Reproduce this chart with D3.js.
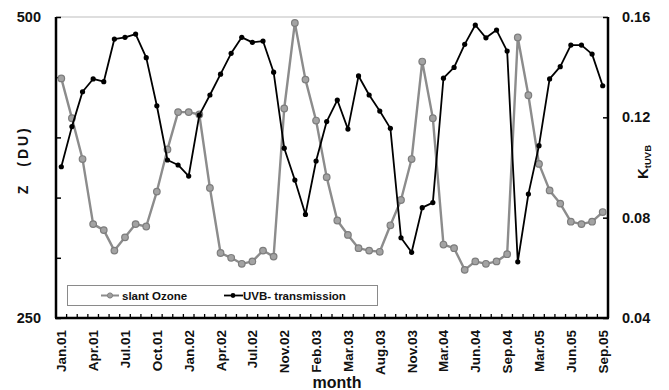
<!DOCTYPE html>
<html>
<head>
<meta charset="utf-8">
<script src="https://cdn.jsdelivr.net/npm/d3@7"></script>
<style>
  html, body { margin: 0; padding: 0; background: #fff; }
  svg { display: block; font-family: "Liberation Sans", Arial, sans-serif; }
</style>
</head>
<body>
<svg id="chart" width="669" height="390"></svg>
<script>
// Month tick labels, one for every third observation
const tickLabels = ["Jan.01", "Apr.01", "Jul.01", "Oct.01", "Jan.02", "Apr.02", "Jul.02",
  "Nov.02", "Feb.03", "Mar.03", "Aug.03", "Nov.03", "Mar.04", "Jun.04", "Sep.04",
  "Mar.05", "Jun.05", "Sep.05"];

// Slant ozone column (DU)
const slantOzone = [449, 416, 382, 328, 323, 306, 317, 328, 326, 355, 390, 421, 421,
  419, 358, 304, 300, 295, 297, 306, 301, 424, 495, 448, 414, 367, 331, 319, 308,
  306, 305, 327, 348, 382, 463, 416, 311, 308, 290, 297, 295, 297, 303, 483, 435,
  378, 356, 345, 330, 328, 330, 338];

// UVB transmission factor K_tUVB
const uvbTransmission = [0.1003, 0.1163, 0.1302, 0.1353, 0.1342, 0.1512, 0.1519,
  0.1532, 0.1438, 0.1246, 0.1030, 0.1010, 0.0966, 0.1209, 0.1289, 0.1372, 0.1455,
  0.1519, 0.1499, 0.1504, 0.1380, 0.1077, 0.0950, 0.0813, 0.1026, 0.1183, 0.1269,
  0.1153, 0.1365, 0.1289, 0.1225, 0.1156, 0.0720, 0.0662, 0.0840, 0.0860, 0.1356,
  0.1399, 0.1491, 0.1568, 0.1517, 0.1548, 0.1464, 0.0624, 0.0894, 0.1087, 0.1353,
  0.1402, 0.1488, 0.1488, 0.1452, 0.1326];

const leftTicks = [250, 300, 350, 400, 450, 500];
const rightTicks = [0.04, 0.08, 0.12, 0.16];

const svg = d3.select("#chart");
const m = { left: 56, right: 608, top: 17, bottom: 318 };

const idx = d3.range(slantOzone.length);
const x = d3.scaleBand().domain(idx).range([m.left, m.right]).padding(0);
const cx = i => x(i) + x.bandwidth() / 2;
const yL = d3.scaleLinear().domain([250, 500]).range([m.bottom, m.top]);
const yR = d3.scaleLinear().domain([0.04, 0.16]).range([m.bottom, m.top]);

// plot-area top border
svg.append("line")
  .attr("x1", m.left).attr("x2", m.right)
  .attr("y1", m.top).attr("y2", m.top)
  .attr("stroke", "#bdbdbd").attr("stroke-width", 1);

// left axis
const leftAxis = d3.axisLeft(yL).tickValues(leftTicks).tickSize(-5).tickFormat("");
const gL = svg.append("g").attr("transform", `translate(${m.left},0)`).call(leftAxis);
gL.select(".domain").attr("stroke", "#000").attr("stroke-width", 2.5)
  .attr("d", `M0,${m.top}V${m.bottom}`);
gL.selectAll(".tick line").attr("stroke", "#000").attr("stroke-width", 1.5);

svg.selectAll(".ltl").data([500, 250]).join("text")
  .attr("x", 41).attr("y", d => yL(d) + 5)
  .attr("text-anchor", "end")
  .attr("font-size", 14.5).attr("font-weight", "bold").attr("fill", "#111")
  .text(d => d);

// right axis
const rightAxis = d3.axisRight(yR).tickValues(rightTicks).tickSize(-5).tickFormat("");
const gR = svg.append("g").attr("transform", `translate(${m.right},0)`).call(rightAxis);
gR.select(".domain").attr("stroke", "#000").attr("stroke-width", 2.5)
  .attr("d", `M0,${m.top}V${m.bottom}`);
gR.selectAll(".tick line").attr("stroke", "#000").attr("stroke-width", 1.5);

svg.selectAll(".rtl").data(rightTicks).join("text")
  .attr("x", 622).attr("y", d => yR(d) + 5)
  .attr("font-size", 14.5).attr("font-weight", "bold").attr("fill", "#111")
  .text(d => d.toFixed(2));

// bottom axis: ticks at category boundaries
const bounds = d3.range(slantOzone.length + 1).map(i => m.left + i * x.bandwidth());
svg.append("line")
  .attr("x1", m.left - 1).attr("x2", m.right + 1)
  .attr("y1", m.bottom).attr("y2", m.bottom)
  .attr("stroke", "#000").attr("stroke-width", 2.5);
svg.selectAll(".xtick").data(bounds).join("line")
  .attr("x1", d => d).attr("x2", d => d)
  .attr("y1", m.bottom).attr("y2", m.bottom - 4)
  .attr("stroke", "#000").attr("stroke-width", 1.3);

svg.selectAll(".xlab").data(tickLabels).join("text")
  .attr("transform", (d, k) => `translate(${cx(k * 3) + 5},${m.bottom + 12}) rotate(-90)`)
  .attr("text-anchor", "end")
  .attr("font-size", 13.5).attr("font-weight", "bold").attr("fill", "#111")
  .text(d => d);

// axis titles
svg.append("text")
  .attr("transform", "translate(28,190) rotate(-90)")
  .attr("text-anchor", "middle")
  .attr("font-size", 14).attr("font-weight", "bold").attr("fill", "#111")
  .text("Z");
svg.append("text")
  .attr("transform", "translate(28,146) rotate(-90)")
  .attr("text-anchor", "middle")
  .attr("font-size", 14).attr("font-weight", "bold").attr("fill", "#111")
  .attr("letter-spacing", 3)
  .text("(DU)");

const kt = svg.append("text")
  .attr("transform", "translate(648,162) rotate(-90)")
  .attr("text-anchor", "middle")
  .attr("font-weight", "bold").attr("fill", "#111");
kt.append("tspan").attr("font-size", 15).text("K");
kt.append("tspan").attr("font-size", 9.5).attr("dy", 3).text("tUVB");

svg.append("text")
  .attr("x", 337).attr("y", 388)
  .attr("text-anchor", "middle")
  .attr("font-size", 16).attr("font-weight", "bold").attr("fill", "#111")
  .text("month");

// legend
const lg = svg.append("g");
lg.append("rect")
  .attr("x", 67.5).attr("y", 285.5).attr("width", 310).attr("height", 20)
  .attr("fill", "#fff").attr("stroke", "#8a8a8a").attr("stroke-width", 1);
lg.append("line").attr("x1", 101).attr("x2", 119).attr("y1", 295.5).attr("y2", 295.5)
  .attr("stroke", "#8c8c8c").attr("stroke-width", 2);
lg.append("circle").attr("cx", 110).attr("cy", 295.5).attr("r", 2.6)
  .attr("fill", "#a0a0a0").attr("stroke", "#808080").attr("stroke-width", 1);
lg.append("text").attr("x", 122).attr("y", 299.5)
  .attr("font-size", 11.5).attr("font-weight", "bold").attr("fill", "#111")
  .text("slant Ozone");
lg.append("line").attr("x1", 224).attr("x2", 243).attr("y1", 295.5).attr("y2", 295.5)
  .attr("stroke", "#000").attr("stroke-width", 1.8);
lg.append("circle").attr("cx", 233).attr("cy", 295.5).attr("r", 2.4).attr("fill", "#000");
lg.append("text").attr("x", 243).attr("y", 299.5)
  .attr("font-size", 11.5).attr("font-weight", "bold").attr("fill", "#111")
  .text("UVB- transmission");

// slant ozone series
const lineL = d3.line().x((d, i) => cx(i)).y(d => yL(d));
svg.append("path").datum(slantOzone)
  .attr("d", lineL).attr("fill", "none")
  .attr("stroke", "#8c8c8c").attr("stroke-width", 2.4).attr("stroke-linejoin", "round");
svg.selectAll(".oz").data(slantOzone).join("circle")
  .attr("cx", (d, i) => cx(i)).attr("cy", d => yL(d)).attr("r", 3.3)
  .attr("fill", "#a3a3a3").attr("stroke", "#7d7d7d").attr("stroke-width", 1.2);

// UVB transmission series
const lineR = d3.line().x((d, i) => cx(i)).y(d => yR(d));
svg.append("path").datum(uvbTransmission)
  .attr("d", lineR).attr("fill", "none")
  .attr("stroke", "#000").attr("stroke-width", 1.8).attr("stroke-linejoin", "round");
svg.selectAll(".uv").data(uvbTransmission).join("circle")
  .attr("cx", (d, i) => cx(i)).attr("cy", d => yR(d)).attr("r", 2.6)
  .attr("fill", "#000");
</script>
</body>
</html>
